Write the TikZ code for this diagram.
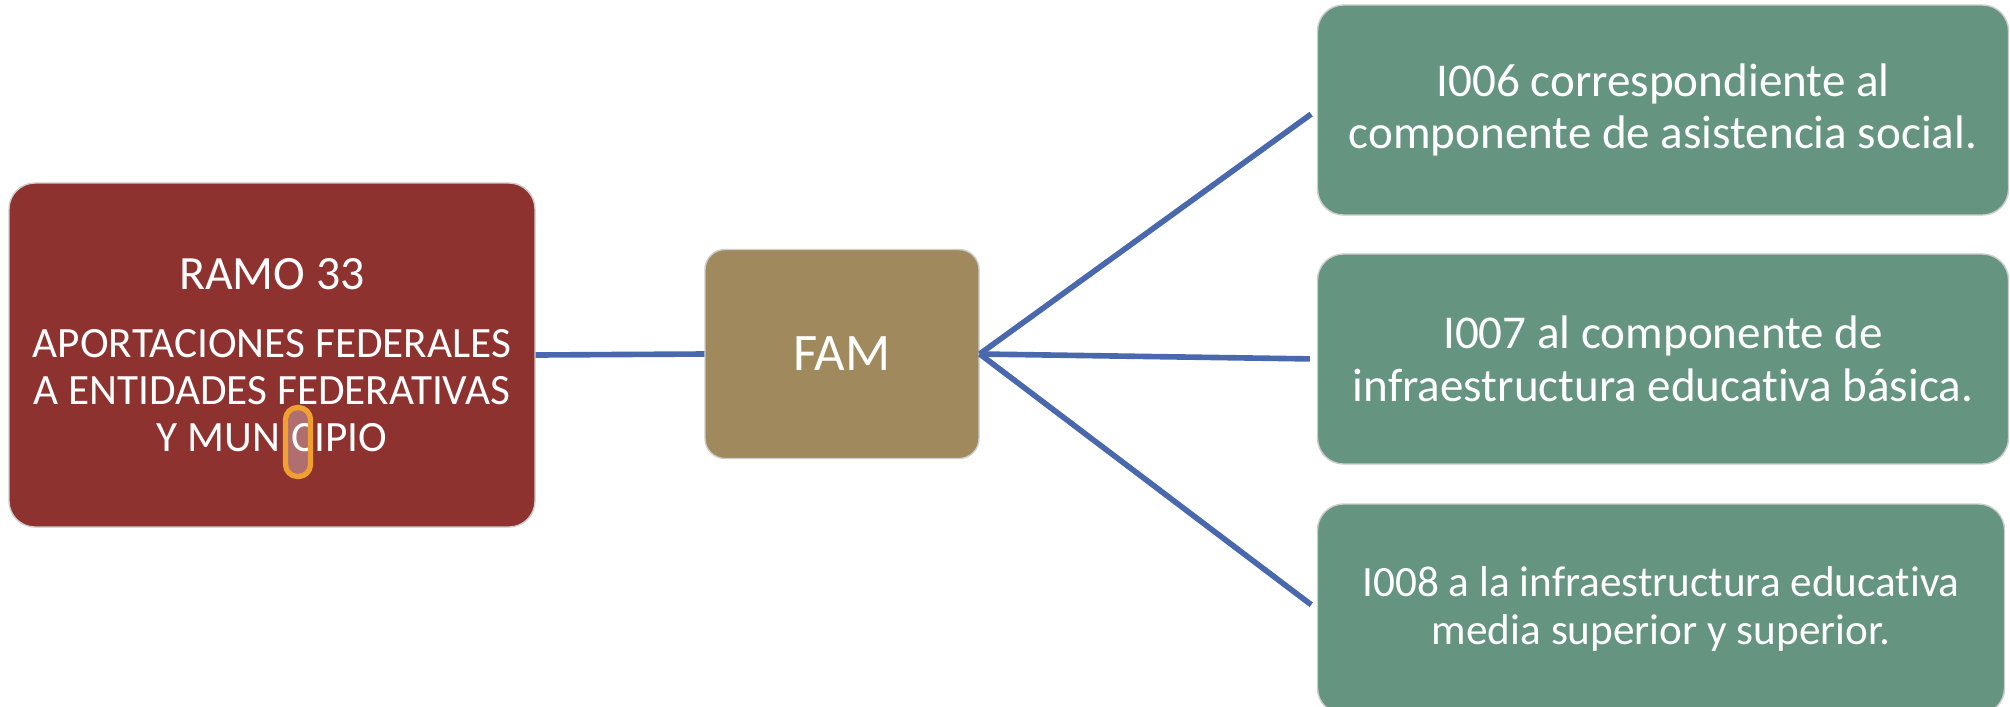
\documentclass[tikz,border=0pt]{standalone}
\usepackage{fontspec}
\setmainfont{Carlito}[Ligatures=NoCommon]
\usetikzlibrary{positioning, calc}
\definecolor{ramored}{HTML}{8E3230}
\definecolor{famtan}{HTML}{A08A5D}
\definecolor{compgreen}{HTML}{659580}
\definecolor{linkblue}{HTML}{4A68AE}
\definecolor{markorange}{HTML}{F0A030}

\begin{document}
\begin{tikzpicture}[
    box/.style={rounded corners=0.26cm, draw=white!80!black, line width=0.4pt,
      text=white, align=center, inner sep=0pt},
    comp/.style={box, fill=compgreen, minimum width=6.91cm, minimum height=2.10cm},
    link/.style={linkblue, line width=1.6pt}]
    \path[use as bounding box, clip] (0,0) rectangle (20.1,7.06);
    %--- RAMO 33 ---
    \node[box, fill=ramored, minimum width=5.26cm, minimum height=3.44cm,
      font=\fontsize{12.3}{13.4}\selectfont] (ramo) at (2.72,3.51)
      {{\fontsize{13.6}{14}\selectfont RAMO 33}\\[6pt]
       APORTACIONES FEDERALES\\A ENTIDADES FEDERATIVAS\\Y MUNICIPIO};
    \node[draw=markorange, line width=1.5pt, fill=white, fill opacity=0.3,
      rounded corners=0.12cm, minimum width=0.25cm, minimum height=0.69cm,
      inner sep=0pt] (marca) at (2.98,2.64) {};
    %--- FAM ---
    \node[box, fill=famtan, minimum width=2.74cm, minimum height=2.09cm,
      rounded corners=0.2cm, font=\fontsize{15}{18}\selectfont] (fam) at (8.42,3.52) {FAM};
    %--- COMPONENTES ---
    \node[comp, font=\fontsize{13.4}{14.6}\selectfont] (i006) at (16.63,5.96)
      {I006 correspondiente al\\componente de asistencia social.};
    \node[comp, font=\fontsize{13.4}{15.2}\selectfont] (i007) at (16.63,3.47)
      {I007 al componente de\\infraestructura educativa básica.};
    \node[comp, minimum width=6.87cm, font=\fontsize{12.3}{13.9}\selectfont] (i008) at (16.61,0.97)
      {I008 a la infraestructura educativa\\media superior y superior.};
    %--- CONECTORES ---
    \draw[link] (ramo.east) -- (fam.west);
    \foreach \comp in {i006, i007, i008}
      \draw[link, shorten >=0.07cm] (fam.east) -- (\comp.west);
  \end{tikzpicture}
\end{document}
